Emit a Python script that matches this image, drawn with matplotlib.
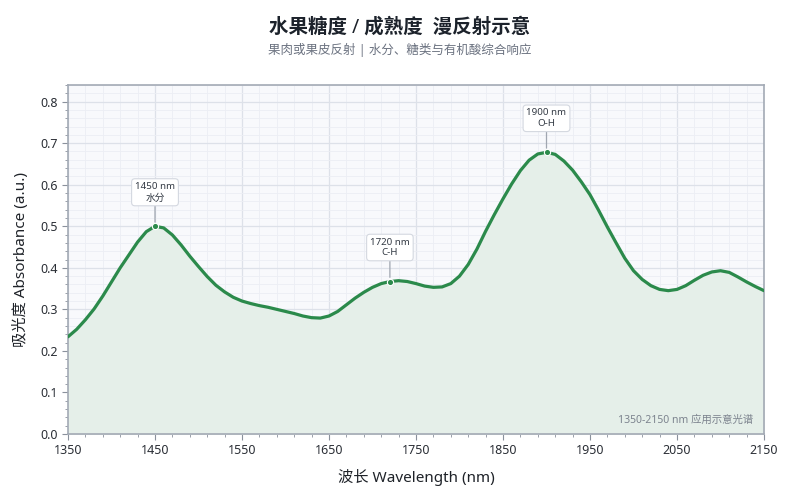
import matplotlib.pyplot as plt
from matplotlib.ticker import MultipleLocator

plt.rcParams['font.family'] = ['Noto Sans', 'Noto Sans CJK SC', 'DejaVu Sans']

# wavelength (nm) and absorbance, every 10 nm
wavelength = list(range(1350, 2151, 10))
absorbance = [
    0.234, 0.252, 0.275, 0.301, 0.332, 0.366, 0.400, 0.431, 0.462, 0.487,
    0.500, 0.496, 0.479, 0.455, 0.428, 0.403, 0.379, 0.358, 0.342, 0.329,
    0.320, 0.314, 0.309, 0.305, 0.300, 0.295, 0.290, 0.284, 0.280, 0.279,
    0.284, 0.295, 0.311, 0.327, 0.341, 0.353, 0.362, 0.367, 0.369, 0.367,
    0.362, 0.356, 0.353, 0.354, 0.362, 0.380, 0.408, 0.445, 0.488, 0.528,
    0.566, 0.602, 0.634, 0.659, 0.674, 0.678, 0.673, 0.657, 0.635, 0.607,
    0.576, 0.538, 0.498, 0.460, 0.423, 0.393, 0.372, 0.357, 0.348, 0.345,
    0.348, 0.357, 0.370, 0.382, 0.390, 0.393, 0.389, 0.378, 0.366, 0.355,
    0.345,
]

peak_nm = [1450, 1720, 1900]
peak_val = [0.500, 0.367, 0.678]
peak_names = ['水分', 'C-H', 'O-H']

line_color = '#2b8a4b'

fig = plt.figure(figsize=(8, 5), dpi=100)
ax = fig.add_axes([0.085, 0.132, 0.87, 0.698])
ax.set_facecolor('#f8f9fc')

ax.fill_between(wavelength, absorbance, 0, color='#e5efe9', zorder=1)
ax.plot(wavelength, absorbance, color=line_color, lw=2.3, zorder=3,
        solid_capstyle='round', solid_joinstyle='round')

for nm, v, name in zip(peak_nm, peak_val, peak_names):
    ax.plot(nm, v, 'o', ms=4.5, color=line_color, mec='white', mew=0.8, zorder=4)
    ax.annotate(f'{nm} nm\n{name}', xy=(nm, v), xytext=(0, 34),
                textcoords='offset pixels', ha='center', va='center',
                fontsize=7, color='#333a44', linespacing=1.25,
                bbox=dict(boxstyle='round,pad=0.35', fc='white', ec='#d4d8e0', lw=0.8),
                arrowprops=dict(arrowstyle='-', color='#a0a6b0', lw=0.9,
                                shrinkA=0, shrinkB=3),
                zorder=5)

ax.set_xlim(1350, 2150)
ax.set_ylim(0, 0.84)
ax.xaxis.set_major_locator(MultipleLocator(100, offset=50))
ax.xaxis.set_minor_locator(MultipleLocator(20, offset=10))
ax.yaxis.set_major_locator(MultipleLocator(0.1))
ax.yaxis.set_minor_locator(MultipleLocator(0.02))
ax.grid(which='major', color='#dde1e9', lw=0.9, zorder=0)
ax.grid(which='minor', color='#eceef4', lw=0.6, zorder=0)
ax.set_axisbelow(True)

for s in ax.spines.values():
    s.set_color('#a3aab5')
    s.set_linewidth(1.2)
ax.tick_params(which='major', length=4, color='#8a919c', labelsize=9, labelcolor='#2b2f36')
ax.tick_params(which='minor', length=2, color='#8a919c')

ax.set_xlabel('波长 Wavelength (nm)', fontsize=11, color='#1f2329', labelpad=8)
ax.set_ylabel('吸光度 Absorbance (a.u.)', fontsize=11, color='#1f2329', labelpad=8)

ax.text(0.985, 0.04, '1350-2150 nm 应用示意光谱', transform=ax.transAxes,
        ha='right', va='center', fontsize=7.5, color='#7c838e')

fig.text(0.5, 0.945, '水果糖度 / 成熟度  漫反射示意', ha='center', va='center',
         fontsize=14, fontweight='bold', color='#1c222b')
fig.text(0.5, 0.9, '果肉或果皮反射 | 水分、糖类与有机酸综合响应', ha='center', va='center',
         fontsize=9, color='#6b7280')

fig.savefig('out.png', dpi=100)
